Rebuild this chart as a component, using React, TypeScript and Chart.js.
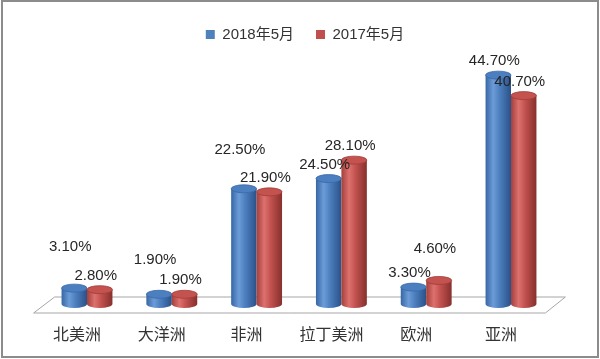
import { useEffect, useRef } from "react";
import { Chart, registerables } from "chart.js";

Chart.register(...registerables);

// ---- data ----
const categories = ["北美洲", "大洋洲", "非洲", "拉丁美洲", "欧洲", "亚洲"];
const seriesNames = ["2018年5月", "2017年5月"];
const values2018 = [3.1, 1.9, 22.5, 24.5, 3.3, 44.7];
const values2017 = [2.8, 1.9, 21.9, 28.1, 4.6, 40.7];

// ---- style ----
const PX_PER_UNIT = 5.12;
const LATIN = "'Liberation Sans', 'Noto Sans CJK SC', sans-serif";
const CJK = "'Noto Sans CJK SC', sans-serif";

const palettes = [
  { flat: "#4f81bd", edge: "#3766a4", light: "#6c9cd8", mid: "#4d7fbf", dark: "#2a5188", top: "#4b7fc0", rim: "#3a68a6" },
  { flat: "#c0504d", edge: "#a33f3c", light: "#dd716e", mid: "#c2524f", dark: "#86302d", top: "#c4524f", rim: "#9f3d3a" },
];

// extra lift of some labels, as Excel placed them to avoid collisions
const labelExtraLift = [
  [27, 20, 25, 0, 0, 0],
  [0, 0, 0, 0, 18, 0],
];

function drawCylinder(ctx: CanvasRenderingContext2D, x: number, top: number, base: number, w: number, pal: any) {
  const rx = w / 2;
  const ry = 4;
  const g = ctx.createLinearGradient(x - rx, 0, x + rx, 0);
  g.addColorStop(0, pal.edge);
  g.addColorStop(0.3, pal.light);
  g.addColorStop(0.55, pal.mid);
  g.addColorStop(1, pal.dark);
  ctx.beginPath();
  ctx.moveTo(x - rx, top);
  ctx.lineTo(x - rx, base);
  ctx.ellipse(x, base, rx, ry, 0, Math.PI, 0, true);
  ctx.lineTo(x + rx, top);
  ctx.closePath();
  ctx.fillStyle = g;
  ctx.fill();
  ctx.beginPath();
  ctx.ellipse(x, top, rx, ry, 0, 0, Math.PI * 2);
  ctx.fillStyle = pal.top;
  ctx.fill();
  ctx.strokeStyle = pal.rim;
  ctx.lineWidth = 0.8;
  ctx.stroke();
}

const cylinderPlugin = {
  id: "cylinders",
  afterLayout(chart: any) {
    const y = chart.scales.y;
    y.max = (y.bottom - y.top) / PX_PER_UNIT;
    y.configure();
    if (chart.legend) {
      chart.legend.left += 6;
      chart.legend.right += 6;
    }
  },
  beforeDraw(chart: any) {
    const ctx = chart.ctx;
    ctx.save();
    ctx.fillStyle = "#ffffff";
    ctx.fillRect(0, 0, chart.width, chart.height);
    ctx.lineWidth = 2;
    ctx.strokeStyle = "#8c8c8c";
    ctx.strokeRect(2, 1, chart.width - 4, chart.height - 3);
    ctx.restore();
  },
  beforeDatasetsDraw(chart: any) {
    const ctx: CanvasRenderingContext2D = chart.ctx;
    const { left, right } = chart.chartArea;
    const base = chart.scales.y.getPixelForValue(0);
    ctx.save();
    // floor
    ctx.beginPath();
    ctx.moveTo(left + 10, base - 7);
    ctx.lineTo(right + 12, base - 7);
    ctx.lineTo(right - 8, base + 9);
    ctx.lineTo(left - 11, base + 9);
    ctx.closePath();
    ctx.fillStyle = "#ffffff";
    ctx.fill();
    ctx.strokeStyle = "#a6a6a6";
    ctx.lineWidth = 1;
    ctx.stroke();
    // cylinders
    chart.data.datasets.forEach((ds: any, di: number) => {
      const meta = chart.getDatasetMeta(di);
      meta.data.forEach((el: any) => {
        const p = el.getProps(["x", "y", "base", "width"], true);
        drawCylinder(ctx, p.x, p.y, p.base, p.width, palettes[di]);
      });
    });
    // labels
    ctx.font = `15px ${LATIN}`;
    ctx.fillStyle = "#262626";
    ctx.textAlign = "center";
    ctx.textBaseline = "middle";
    chart.data.datasets.forEach((ds: any, di: number) => {
      const meta = chart.getDatasetMeta(di);
      meta.data.forEach((el: any, i: number) => {
        const p = el.getProps(["x", "y"], true);
        const v = ds.data[i] as number;
        ctx.fillText(v.toFixed(2) + "%", p.x - 4, p.y - 14 - labelExtraLift[di][i]);
      });
    });
    ctx.restore();
    return false;
  },
};

export default function App() {
  const ref = useRef<HTMLCanvasElement>(null);
  useEffect(() => {
    const chart = new Chart(ref.current as HTMLCanvasElement, {
      type: "bar",
      data: {
        labels: categories,
        datasets: [
          { label: seriesNames[0], data: values2018, backgroundColor: palettes[0].flat, borderWidth: 0 },
          { label: seriesNames[1], data: values2017, backgroundColor: palettes[1].flat, borderWidth: 0 },
        ],
      },
      options: {
        animation: false,
        responsive: false,
        layout: { padding: { top: 5, left: 44.6, right: 46.6, bottom: 15.8 } },
        datasets: { bar: { categoryPercentage: 0.6, barPercentage: 1 } },
        plugins: {
          tooltip: { enabled: false },
          legend: {
            position: "top",
            labels: {
              boxWidth: 9,
              boxHeight: 9,
              padding: 22,
              color: "#333333",
              font: { size: 15, family: LATIN },
            },
          },
        },
        scales: {
          x: {
            grid: { display: false, drawTicks: true, tickLength: 20 },
            border: { display: false },
            ticks: {
              padding: 0,
              labelOffset: -10,
              color: "#333333",
              font: { size: 16, family: CJK },
            },
          },
          y: {
            display: false,
            min: 0,
            max: 50,
            bounds: "data",
          },
        },
      },
      plugins: [cylinderPlugin],
    } as any);
    return () => chart.destroy();
  }, []);
  return (
    <div style={{ position: "fixed", left: 0, top: 0, width: 600, height: 359 }}>
      <canvas ref={ref} width={600} height={359} style={{ display: "block" }} />
    </div>
  );
}
